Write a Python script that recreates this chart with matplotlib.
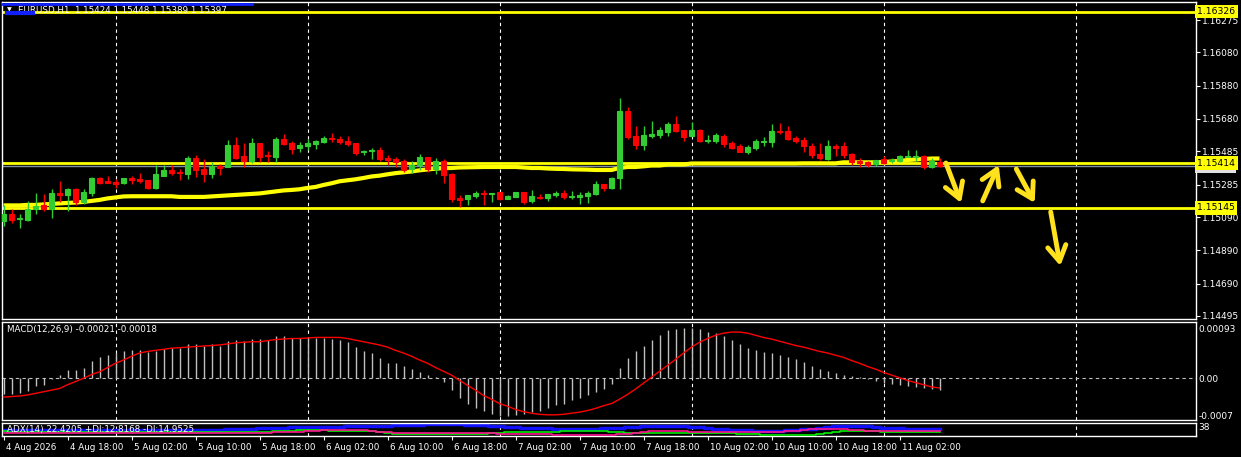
import numpy as np
import matplotlib.pyplot as plt
from matplotlib.transforms import blended_transform_factory, ScaledTranslation

# EURUSD H1 candles, 4 Aug 10:00 -> 11 Aug 07:00
opens = [1.15067, 1.15109, 1.15079, 1.15073, 1.15139, 1.15163, 1.15139, 1.15235, 1.15223, 1.15259,
         1.15181, 1.15235, 1.15325, 1.15307, 1.15301, 1.15295, 1.15325, 1.15319, 1.15313, 1.15265,
         1.15337, 1.15373, 1.15361, 1.15349, 1.15445, 1.15379, 1.15349, 1.15397, 1.15391, 1.15523,
         1.15457, 1.15427, 1.15535, 1.15463, 1.15451, 1.15560, 1.15535, 1.15505, 1.15517, 1.15529,
         1.15541, 1.15566, 1.15560, 1.15547, 1.15535, 1.15481, 1.15487, 1.15493, 1.15445, 1.15439,
         1.15427, 1.15379, 1.15403, 1.15451, 1.15379, 1.15427, 1.15349, 1.15205, 1.15199, 1.15217,
         1.15235, 1.15229, 1.15241, 1.15199, 1.15211, 1.15241, 1.15187, 1.15211, 1.15205, 1.15223,
         1.15235, 1.15211, 1.15211, 1.15217, 1.15229, 1.15289, 1.15265, 1.15325, 1.15728, 1.15578,
         1.15523, 1.15578, 1.15584, 1.15602, 1.15650, 1.15614, 1.15578, 1.15614, 1.15547, 1.15547,
         1.15578, 1.15535, 1.15517, 1.15481, 1.15505, 1.15541, 1.15541, 1.15608, 1.15608, 1.15566,
         1.15553, 1.15517, 1.15469, 1.15439, 1.15517, 1.15517, 1.15469, 1.15427, 1.15421, 1.15409,
         1.15439, 1.15427, 1.15427, 1.15451, 1.15454, 1.15457, 1.15391, 1.15424]
highs = [1.15163, 1.15139, 1.15109, 1.15187, 1.15235, 1.15229, 1.15259, 1.15307, 1.15265, 1.15265,
         1.15259, 1.15331, 1.15331, 1.15337, 1.15319, 1.15325, 1.15337, 1.15355, 1.15313, 1.15403,
         1.15403, 1.15403, 1.15379, 1.15457, 1.15463, 1.15439, 1.15421, 1.15409, 1.15553, 1.15572,
         1.15535, 1.15566, 1.15535, 1.15487, 1.15572, 1.15590, 1.15547, 1.15541, 1.15560, 1.15553,
         1.15578, 1.15596, 1.15578, 1.15578, 1.15535, 1.15493, 1.15505, 1.15511, 1.15463, 1.15451,
         1.15439, 1.15427, 1.15469, 1.15451, 1.15445, 1.15439, 1.15355, 1.15223, 1.15223, 1.15247,
         1.15253, 1.15235, 1.15241, 1.15223, 1.15241, 1.15241, 1.15253, 1.15229, 1.15229, 1.15247,
         1.15253, 1.15247, 1.15241, 1.15247, 1.15307, 1.15289, 1.15331, 1.15806, 1.15752, 1.15638,
         1.15638, 1.15668, 1.15632, 1.15662, 1.15698, 1.15614, 1.15662, 1.15620, 1.15584, 1.15596,
         1.15590, 1.15547, 1.15529, 1.15523, 1.15560, 1.15572, 1.15650, 1.15656, 1.15638, 1.15578,
         1.15572, 1.15535, 1.15535, 1.15553, 1.15529, 1.15541, 1.15475, 1.15445, 1.15427, 1.15433,
         1.15457, 1.15445, 1.15463, 1.15493, 1.15493, 1.15463, 1.15445, 1.15448]
lows = [1.15037, 1.15055, 1.15025, 1.15067, 1.15109, 1.15127, 1.15085, 1.15181, 1.15127, 1.15163,
        1.15169, 1.15217, 1.15289, 1.15295, 1.15265, 1.15289, 1.15289, 1.15295, 1.15259, 1.15259,
        1.15337, 1.15343, 1.15313, 1.15319, 1.15331, 1.15301, 1.15325, 1.15343, 1.15391, 1.15439,
        1.15391, 1.15415, 1.15421, 1.15421, 1.15421, 1.15523, 1.15469, 1.15481, 1.15493, 1.15499,
        1.15535, 1.15541, 1.15529, 1.15517, 1.15463, 1.15463, 1.15439, 1.15427, 1.15403, 1.15391,
        1.15361, 1.15355, 1.15373, 1.15361, 1.15349, 1.15295, 1.15181, 1.15151, 1.15163, 1.15205,
        1.15163, 1.15181, 1.15193, 1.15199, 1.15211, 1.15169, 1.15175, 1.15199, 1.15187, 1.15211,
        1.15199, 1.15199, 1.15169, 1.15175, 1.15223, 1.15247, 1.15259, 1.15259, 1.15560, 1.15499,
        1.15493, 1.15566, 1.15566, 1.15578, 1.15602, 1.15547, 1.15578, 1.15541, 1.15535, 1.15535,
        1.15511, 1.15499, 1.15481, 1.15469, 1.15493, 1.15517, 1.15511, 1.15590, 1.15553, 1.15535,
        1.15481, 1.15445, 1.15433, 1.15433, 1.15457, 1.15445, 1.15403, 1.15391, 1.15391, 1.15397,
        1.15409, 1.15415, 1.15421, 1.15451, 1.15427, 1.15379, 1.15385, 1.15389]
closes = [1.15109, 1.15073, 1.15082, 1.15139, 1.15157, 1.15139, 1.15235, 1.15223, 1.15259, 1.15181,
          1.15241, 1.15325, 1.15295, 1.15295, 1.15289, 1.15325, 1.15313, 1.15307, 1.15265, 1.15349,
          1.15373, 1.15355, 1.15355, 1.15445, 1.15373, 1.15349, 1.15397, 1.15385, 1.15523, 1.15445,
          1.15427, 1.15535, 1.15451, 1.15457, 1.15560, 1.15529, 1.15499, 1.15523, 1.15535, 1.15547,
          1.15566, 1.15560, 1.15541, 1.15529, 1.15475, 1.15487, 1.15493, 1.15439, 1.15433, 1.15421,
          1.15373, 1.15403, 1.15451, 1.15379, 1.15427, 1.15343, 1.15199, 1.15193, 1.15223, 1.15235,
          1.15229, 1.15235, 1.15199, 1.15217, 1.15241, 1.15181, 1.15217, 1.15205, 1.15229, 1.15235,
          1.15211, 1.15214, 1.15223, 1.15235, 1.15289, 1.15265, 1.15325, 1.15728, 1.15572, 1.15523,
          1.15584, 1.15590, 1.15614, 1.15650, 1.15608, 1.15572, 1.15614, 1.15547, 1.15553, 1.15584,
          1.15529, 1.15505, 1.15481, 1.15511, 1.15547, 1.15547, 1.15608, 1.15602, 1.15560, 1.15547,
          1.15517, 1.15463, 1.15445, 1.15517, 1.15505, 1.15463, 1.15421, 1.15415, 1.15403, 1.15433,
          1.15415, 1.15433, 1.15457, 1.15457, 1.15457, 1.15391, 1.15427, 1.15397]
# thick yellow moving average
ma_line = [1.15160, 1.15160, 1.15160, 1.15163, 1.15163, 1.15166, 1.15169, 1.15172, 1.15175, 1.15177,
           1.15181, 1.15187, 1.15193, 1.15202, 1.15208, 1.15214, 1.15215, 1.15215, 1.15215, 1.15215,
           1.15215, 1.15215, 1.15211, 1.15211, 1.15211, 1.15211, 1.15214, 1.15217, 1.15220, 1.15223,
           1.15226, 1.15229, 1.15232, 1.15238, 1.15244, 1.15250, 1.15253, 1.15257, 1.15265, 1.15271,
           1.15283, 1.15293, 1.15305, 1.15311, 1.15317, 1.15325, 1.15334, 1.15339, 1.15347, 1.15354,
           1.15359, 1.15364, 1.15371, 1.15376, 1.15381, 1.15384, 1.15385, 1.15388, 1.15389, 1.15390,
           1.15391, 1.15391, 1.15391, 1.15391, 1.15391, 1.15388, 1.15385, 1.15385, 1.15382, 1.15380,
           1.15379, 1.15377, 1.15376, 1.15375, 1.15373, 1.15373, 1.15373, 1.15385, 1.15391, 1.15391,
           1.15395, 1.15400, 1.15400, 1.15406, 1.15406, 1.15406, 1.15412, 1.15412, 1.15412, 1.15412,
           1.15412, 1.15412, 1.15412, 1.15412, 1.15412, 1.15412, 1.15412, 1.15412, 1.15412, 1.15412,
           1.15413, 1.15413, 1.15413, 1.15413, 1.15413, 1.15419, 1.15419, 1.15419, 1.15419, 1.15419,
           1.15421, 1.15424, 1.15427, 1.15433, 1.15436, 1.15439, 1.15442, 1.15442]

macd_main = [-0.00030, -0.00030, -0.00028, -0.00023, -0.00015, -0.00012, -0.00001, 0.00006, 0.00015, 0.00015,
             0.00020, 0.00032, 0.00040, 0.00043, 0.00047, 0.00051, 0.00053, 0.00053, 0.00049, 0.00051,
             0.00054, 0.00056, 0.00056, 0.00064, 0.00064, 0.00061, 0.00064, 0.00060, 0.00069, 0.00071,
             0.00069, 0.00074, 0.00074, 0.00071, 0.00078, 0.00079, 0.00075, 0.00075, 0.00075, 0.00075,
             0.00075, 0.00074, 0.00071, 0.00068, 0.00059, 0.00051, 0.00047, 0.00037, 0.00029, 0.00028,
             0.00022, 0.00017, 0.00011, 0.00006, 0.00002, -0.00006, -0.00022, -0.00037, -0.00047, -0.00056,
             -0.00061, -0.00067, -0.00071, -0.00071, -0.00069, -0.00067, -0.00063, -0.00060, -0.00056, -0.00050,
             -0.00047, -0.00041, -0.00037, -0.00032, -0.00026, -0.00019, -0.00011, 0.00019, 0.00037, 0.00050,
             0.00060, 0.00071, 0.00080, 0.00089, 0.00091, 0.00093, 0.00093, 0.00092, 0.00087, 0.00084,
             0.00078, 0.00071, 0.00063, 0.00056, 0.00052, 0.00048, 0.00047, 0.00043, 0.00039, 0.00035,
             0.00030, 0.00022, 0.00017, 0.00013, 0.00009, 0.00007, 0.00004, 0.00002, -0.00002, -0.00005,
             -0.00008, -0.00010, -0.00012, -0.00014, -0.00016, -0.00018, -0.00019, -0.00021]
macd_signal = [-0.00035, -0.00034, -0.00033, -0.00031, -0.00028, -0.00025, -0.00022, -0.00019, -0.00012, -0.00006,
               0.00000, 0.00007, 0.00012, 0.00020, 0.00028, 0.00034, 0.00041, 0.00047, 0.00050, 0.00052,
               0.00054, 0.00056, 0.00057, 0.00058, 0.00059, 0.00060, 0.00061, 0.00062, 0.00064, 0.00066,
               0.00067, 0.00068, 0.00068, 0.00070, 0.00072, 0.00073, 0.00074, 0.00074, 0.00075, 0.00076,
               0.00076, 0.00076, 0.00076, 0.00074, 0.00071, 0.00068, 0.00065, 0.00062, 0.00058, 0.00052,
               0.00047, 0.00041, 0.00034, 0.00028, 0.00020, 0.00013, 0.00006, -0.00004, -0.00013, -0.00022,
               -0.00032, -0.00039, -0.00047, -0.00052, -0.00058, -0.00062, -0.00065, -0.00067, -0.00068, -0.00068,
               -0.00067, -0.00065, -0.00063, -0.00060, -0.00056, -0.00051, -0.00047, -0.00039, -0.00030, -0.00020,
               -0.00009, 0.00002, 0.00013, 0.00024, 0.00035, 0.00047, 0.00058, 0.00067, 0.00074, 0.00080,
               0.00084, 0.00086, 0.00086, 0.00084, 0.00080, 0.00076, 0.00073, 0.00069, 0.00065, 0.00061,
               0.00058, 0.00054, 0.00050, 0.00047, 0.00043, 0.00039, 0.00033, 0.00028, 0.00022, 0.00017,
               0.00011, 0.00006, 0.00001, -0.00004, -0.00008, -0.00012, -0.00016, -0.00018]

adx_main = [18.5, 18.4, 18.3, 18.2, 18.1, 18.0, 18.0, 18.1, 18.2, 18.3, 18.2, 18.1, 18.0, 18.0, 18.1, 18.2,
            18.4, 18.6, 18.7, 18.8, 18.9, 19.0, 19.1, 19.3, 19.5, 19.8, 20.2, 20.8,
            21.4, 22.3, 23.2, 24.0, 24.8, 25.6, 26.2, 26.8, 27.4, 28.0, 28.6, 29.1, 29.5,
            29.8, 30.2, 30.6, 31.1, 31.7, 32.3, 33.0, 33.6, 34.0, 34.4, 35.5, 36.6, 37.6, 38.4,
            38.4, 38.0, 37.2, 36.2, 35.0, 34.0, 32.8, 31.4, 29.8, 28.4, 27.2, 26.0, 25.0, 24.2, 23.6,
            23.4, 23.3, 23.4, 23.6, 24.0, 24.6, 25.6, 27.0, 28.6, 30.0,
            31.2, 32.0, 32.4, 32.4, 32.0, 31.0, 29.4, 27.4, 25.2, 23.2, 21.4, 19.8,
            18.6, 17.8, 17.2, 17.0, 17.0, 17.2, 17.8, 19.0, 21.0, 23.5, 26.5, 29.5,
            31.5, 32.5, 32.8, 32.4, 31.0, 29.0, 27.0, 25.5, 24.5, 23.8, 23.3, 22.9, 22.6, 22.4]
plus_di = [14.5, 14.2, 14.0, 13.8, 13.8, 13.6, 13.8, 14.0, 14.2, 14.0, 13.8, 13.6, 13.6, 13.8, 14.0, 13.6,
           13.2, 12.8, 12.8, 12.8, 12.8, 13.0, 12.8, 12.6, 12.8, 13.0, 13.2, 13.0,
           12.8, 12.8, 12.6, 12.8, 13.0, 14.0, 15.5, 16.5, 17.5, 18.5, 19.2, 19.0, 18.2,
           17.5, 17.0, 17.0, 17.2, 17.0, 16.5, 14.0, 10.0, 7.0, 6.0, 5.4, 5.4, 5.6, 5.8,
           6.0, 6.4, 6.4, 6.6, 7.0, 8.0, 9.5, 11.0, 12.4, 12.8, 13.0, 12.8, 12.8, 13.0, 14.0,
           15.5, 16.5, 17.0, 17.0, 16.5, 15.0, 13.0, 11.5, 10.6, 10.6,
           10.0, 9.0, 8.6, 8.6, 8.6, 8.6, 8.6, 8.6, 8.6, 8.6, 8.6, 8.4,
           8.0, 7.0, 5.5, 4.0, 3.2, 3.2, 3.2, 3.4, 3.6, 4.5, 7.0, 10.5,
           13.5, 15.0, 15.5, 15.2, 15.0, 14.5, 14.0, 13.8, 13.5, 13.2, 13.0, 12.9, 12.8, 12.8]
minus_di = [8.8, 8.8, 8.6, 8.6, 8.6, 8.4, 8.6, 8.6, 8.8, 8.6, 8.6, 8.6, 8.6, 8.6, 8.8, 8.6,
            8.6, 8.6, 8.4, 8.6, 8.6, 8.6, 8.6, 8.6, 8.6, 8.8, 8.6, 8.6,
            8.6, 8.6, 8.6, 8.8, 9.5, 10.5, 11.5, 12.4, 12.8, 13.5, 15.0, 17.0, 18.5,
            19.2, 19.2, 19.0, 19.0, 18.0, 15.5, 13.0, 11.5, 10.6, 10.6, 10.6, 10.6, 10.6, 10.4,
            10.0, 9.5, 9.0, 8.6, 8.6, 8.6, 8.2, 7.5, 7.0, 6.6, 6.4, 6.2, 6.0, 5.5, 4.8,
            4.4, 4.2, 4.2, 4.2, 4.2, 4.2, 4.5, 5.5, 7.5, 10.0,
            12.5, 14.5, 15.0, 15.0, 15.0, 14.5, 14.0, 13.5, 13.0, 12.8, 12.8, 12.8,
            12.8, 12.8, 12.8, 13.0, 13.2, 13.5, 14.5, 16.5, 19.0, 21.0, 21.4, 21.4,
            21.4, 21.0, 19.5, 18.0, 16.5, 15.5, 15.0, 14.8, 14.8, 14.9, 15.0, 15.0, 15.0, 14.95]

time_labels = ["4 Aug 2026", "4 Aug 18:00", "5 Aug 02:00", "5 Aug 10:00", "5 Aug 18:00",
               "6 Aug 02:00", "6 Aug 10:00", "6 Aug 18:00", "7 Aug 02:00", "7 Aug 10:00",
               "7 Aug 18:00", "10 Aug 02:00", "10 Aug 10:00", "10 Aug 18:00", "11 Aug 02:00"]
price_ticks = [1.16275, 1.16080, 1.15880, 1.15680, 1.15485, 1.15285, 1.15090, 1.14890, 1.14690, 1.14495]
level_lines = [1.16326, 1.15414, 1.15145]
bid_price = 1.15397
# hand drawn arrows: (bar start, price start, bar end, price end)
arrows = [(117.8, 1.15415, 119.7, 1.15175),
          (122.4, 1.15187, 124.4, 1.15403),
          (126.6, 1.15379, 128.9, 1.15175),
          (130.9, 1.15121, 132.1, 1.14796)]

W, H = 1241, 457
fig = plt.figure(figsize=(W / 100, H / 100), dpi=100, facecolor='black')
plt.rcParams['font.family'] = 'DejaVu Sans'

def panel(top, bottom):
    ax = fig.add_axes([2 / W, 1 - bottom / H, 1193.5 / W, (bottom - top) / H])
    ax.set_facecolor('black')
    for s in ax.spines.values():
        s.set_color('white')
        s.set_linewidth(1)
    ax.set_xlim(-0.19, 149)
    ax.tick_params(colors='white', labelcolor='white', labelsize=6.5, length=3, pad=2)
    ax.set_xticks([])
    ax.yaxis.tick_right()
    for gx in range(14, 150, 24):
        ax.axvline(gx, color='white', lw=0.8, ls=(0, (3, 3)), zorder=0)
    return ax

ax = panel(2, 319)
ax_macd = panel(321.7, 420)
ax_adx = panel(422.7, 436)

x = np.arange(len(opens))
o, h, l, c = map(np.array, (opens, highs, lows, closes))
up = c >= o
cols = np.where(up, '#32CD32', '#FF0000')

ax.set_ylim(1.144768, 1.163833)
ax.vlines(x, l, h, colors=cols, lw=1, zorder=3)
ax.bar(x, c - o, bottom=o, width=0.62, color=cols, edgecolor=cols, lw=0.8, zorder=4)
ax.plot(x, ma_line, color='#FFFF00', lw=3, zorder=2, solid_capstyle='butt')
for lv in level_lines:
    ax.axhline(lv, color='#FFFF00', lw=2, zorder=1)
ax.axhline(bid_price, color='#8090a0', lw=1, zorder=1)
ax.plot([-0.19, 31], [1.16371, 1.16371], color='#1020ff', lw=2, zorder=5)
ax.plot([0.4, 3.7], [1.16317, 1.16317], color='#1020ff', lw=3, zorder=5)
for x0, y0, x1, y1 in arrows:
    ax.annotate('', xy=(x1, y1), xytext=(x0, y0),
                arrowprops=dict(arrowstyle='->,head_length=0.5,head_width=0.3', lw=3.5,
                                color='#FFE11E', mutation_scale=22, shrinkA=0, shrinkB=0))

ax.set_yticks(price_ticks)
ax.set_yticklabels([f'{p:.5f}' for p in price_ticks])
tr = blended_transform_factory(ax.transAxes, ax.transData)
ax.text(1.0015, bid_price - 0.00006, f'{bid_price:.5f}', transform=tr, ha='left', va='center',
        fontsize=6.5, color='black', bbox=dict(boxstyle='square,pad=0.2', fc='#e0e0e0', ec='none'), zorder=6)
for lv in level_lines:
    ax.text(1.0015, lv, f'{lv:.5f}', transform=tr, ha='left', va='center', fontsize=6.7, color='black',
            bbox=dict(boxstyle='square,pad=0.25', fc='#FFFF00', ec='none'), zorder=7, clip_on=False)
ax.text(5 / 1193.5, 0.975, '\u25bc', transform=ax.transAxes, color='white', fontsize=4.5, va='center')
ax.text(16 / 1193.5, 0.974, f'EURUSD,H1  {opens[-1]:.5f} {highs[-1]:.5f} {lows[-1]:.5f} {closes[-1]:.5f}',
        transform=ax.transAxes, color='white', fontsize=6.3, va='center')

# MACD
ax_macd.set_ylim(-0.000776, 0.001053)
ax_macd.vlines(x, 0, macd_main, colors='#c0c0c0', lw=1, zorder=2)
ax_macd.plot(x, macd_signal, color='#FF0000', lw=1, zorder=3)
ax_macd.axhline(0, color='#c0c0c0', lw=0.8, ls=(0, (3, 3)), zorder=1)
ax_macd.set_yticks([0.00093, 0.0, -0.0007])
ax_macd.set_yticklabels(['0.00093', '0.00', '-0.0007'])
ax_macd.tick_params(length=0)
ax_macd.text(5 / 1193.5, 0.92, f'MACD(12,26,9) {macd_main[-1]:.5f} {macd_signal[-1]:.5f}',
             transform=ax_macd.transAxes, color='white', fontsize=6.3, va='center')

# ADX
ax_adx.set_ylim(0, 42.6)
ax_adx.plot(x, adx_main, color='#1010ff', lw=2.5, drawstyle='steps-mid', zorder=2)
ax_adx.plot(x, plus_di, color='#00ee00', lw=1.2, drawstyle='steps-mid', zorder=3)
ax_adx.plot(x, minus_di, color='#ff1493', lw=1.2, drawstyle='steps-mid', zorder=3)
ax_adx.set_yticks([30])
ax_adx.set_yticklabels(['38'])
ax_adx.tick_params(axis='y', length=0)
ax_adx.text(5 / 1193.5, 0.5, 'ADX(14) 22.4205 +DI:12.8168 -DI:14.9525',
            transform=ax_adx.transAxes, color='white', fontsize=6.3, va='center')

ax_adx.set_xticks(np.arange(0, len(time_labels) * 8, 8))
ax_adx.set_xticklabels(time_labels)
ax_adx.tick_params(axis='x', length=3, pad=2, labelsize=6.3)
shift = ScaledTranslation(1.5 / 72, 0, fig.dpi_scale_trans)
for lab in ax_adx.get_xticklabels():
    lab.set_ha('left')
    lab.set_transform(lab.get_transform() + shift)

fig.savefig('out.png', dpi=100, facecolor='black')
